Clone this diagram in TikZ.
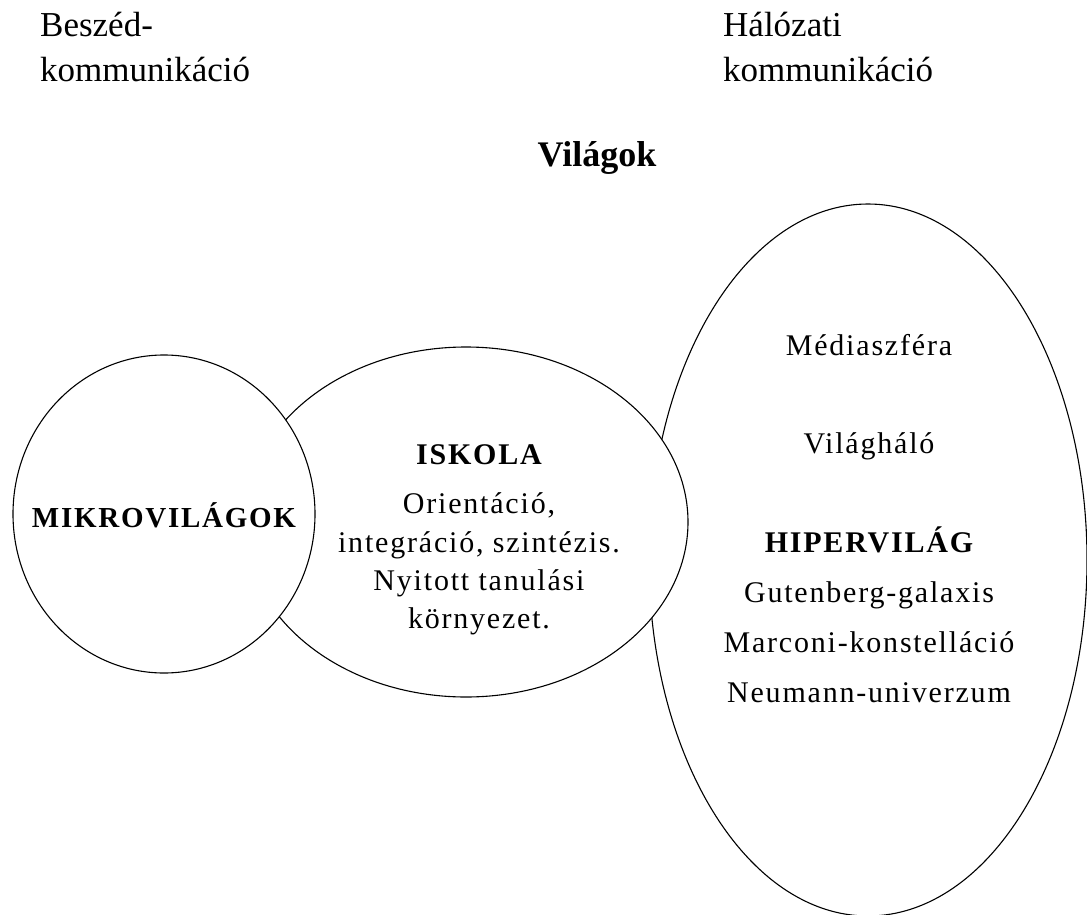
\documentclass[tikz,border=0pt]{standalone}
\usepackage{fontspec}
\setmainfont{Liberation Serif}
\newfontfamily\spacedfont[LetterSpace=6]{Liberation Serif}
\usetikzlibrary{shapes.geometric}
\begin{document}
\begin{tikzpicture}[x=1pt,y=-1pt,
  world/.style={ellipse, draw, line width=1.1pt, fill=white, inner sep=0pt},
  head/.style={anchor=base west, inner sep=0pt, font=\fontsize{35}{40}\selectfont},
  ltxt/.style={anchor=base, inner sep=0pt, font=\spacedfont\fontsize{30}{36}\selectfont},
  btxt/.style={anchor=base, inner sep=0pt, font=\spacedfont\bfseries\fontsize{30}{36}\selectfont}]
\useasboundingbox (0,0) rectangle (1087,915);
% shapes (back to front)
\node[world, minimum width=438pt, minimum height=712pt] (hiper) at (868,560) {};
\node[world, minimum width=444pt, minimum height=350pt] (iskola) at (466,522) {};
\node[world, minimum width=302pt, minimum height=318pt] (mikro) at (164,514) {};
% headings
\node[head] (besz1) at (40,37) {Beszéd-};
\node[head] (besz2) at (40,82) {kommunikáció};
\node[head] (hal1) at (723,37) {Hálózati};
\node[head] (hal2) at (723,82) {kommunikáció};
\node[anchor=base, inner sep=0pt, font=\bfseries\fontsize{36}{40}\selectfont] (vilagok) at (597,167) {Világok};
% left circle
\node[btxt, font=\spacedfont\bfseries\fontsize{29}{34}\selectfont] (mikrot) at (164,527) {MIKROVILÁGOK};
% middle ellipse
\node[btxt] (iskolat) at (479,464) {ISKOLA};
\node[ltxt] (isk1) at (479,513) {Orientáció,};
\node[ltxt] (isk2) at (479,552) {integráció, szintézis.};
\node[ltxt] (isk3) at (479,590) {Nyitott tanulási};
\node[ltxt] (isk4) at (479,628) {környezet.};
% right ellipse
\node[ltxt] (media) at (869,355) {Médiaszféra};
\node[ltxt] (vilh) at (869,453) {Világháló};
\node[btxt] (hipert) at (869,552) {HIPERVILÁG};
\node[ltxt] (gut) at (869,602) {Gutenberg-galaxis};
\node[ltxt] (marc) at (869,652) {Marconi-konstelláció};
\node[ltxt] (neum) at (869,702) {Neumann-univerzum};
\end{tikzpicture}
\end{document}
